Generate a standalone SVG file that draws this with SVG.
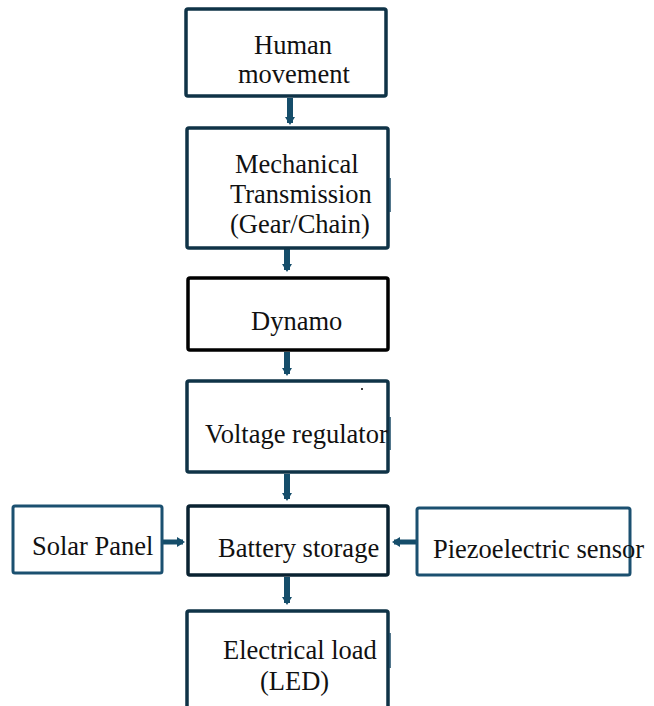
<svg xmlns="http://www.w3.org/2000/svg" width="654" height="706" viewBox="0 0 654 706">
<style>
.box{fill:#fff;stroke:#0f3347;stroke-width:3.5}
.side{fill:#fff;stroke:#1b5070;stroke-width:3}
.t{font-family:"Liberation Serif","Times New Roman",serif;font-size:26.5px;fill:#111}
.ar{stroke:#154d6a;stroke-width:6;fill:none;marker-end:url(#h)}
.tick{stroke:#1b4a66;stroke-width:1.5}
</style>
<defs>
<marker id="h" markerUnits="userSpaceOnUse" markerWidth="12" markerHeight="12" refX="6" refY="6" orient="auto">
<path d="M0,1 L8,6 L0,11 Z" fill="#154d6a"/>
</marker>
</defs>
<rect width="654" height="706" fill="#fff"/>
<g id="connectors">
<line class="ar" x1="290" y1="98" x2="290" y2="123"/>
<line class="ar" x1="287" y1="249" x2="287" y2="270"/>
<line class="ar" x1="287" y1="352" x2="287" y2="374"/>
<line class="ar" x1="287" y1="474" x2="287" y2="499"/>
<line class="ar" x1="287" y1="577" x2="287" y2="603"/>
<line class="ar" x1="163" y1="542" x2="183" y2="542" style="stroke-width:5"/>
<line class="ar" x1="416" y1="542" x2="394" y2="542" style="stroke-width:5"/>
</g>
<g id="human">
<rect class="box" x="186" y="9" width="200" height="87" rx="2"/>
<text class="t" x="254" y="54">Human</text>
<text class="t" x="238" y="83">movement</text>
</g>
<g id="mechanical">
<rect class="box" x="187" y="128" width="201" height="120" rx="2"/>
<line class="tick" x1="390" y1="178" x2="390" y2="212"/>
<text class="t" x="235" y="173">Mechanical</text>
<text class="t" x="230" y="203">Transmission</text>
<text class="t" x="230" y="233">(Gear/Chain)</text>
</g>
<g id="dynamo">
<rect class="box" x="188" y="278" width="200" height="72" rx="2" style="stroke:#000"/>
<text class="t" x="251" y="330">Dynamo</text>
</g>
<g id="voltage">
<rect class="box" x="187" y="381" width="201" height="91" rx="2"/>
<circle cx="362" cy="389" r="1" fill="#000"/>
<line class="tick" x1="390" y1="417" x2="390" y2="450"/>
<text class="t" x="205" y="443">Voltage regulator</text>
</g>
<g id="battery">
<rect class="box" x="188" y="506" width="200" height="69" rx="2" style="stroke:#0a2231"/>
<text class="t" x="218" y="557">Battery storage</text>
</g>
<g id="solar">
<rect class="side" x="13" y="506" width="149" height="67" rx="2"/>
<text class="t" x="32" y="555">Solar Panel</text>
</g>
<g id="piezo">
<rect class="side" x="417" y="508" width="213" height="67" rx="2"/>
<text class="t" x="433" y="558">Piezoelectric sensor</text>
</g>
<g id="load">
<rect class="box" x="187" y="611" width="201" height="110" rx="2"/>
<line class="tick" x1="390" y1="633" x2="390" y2="668"/>
<text class="t" x="223" y="659">Electrical load</text>
<text class="t" x="260" y="690">(LED)</text>
</g>
</svg>
